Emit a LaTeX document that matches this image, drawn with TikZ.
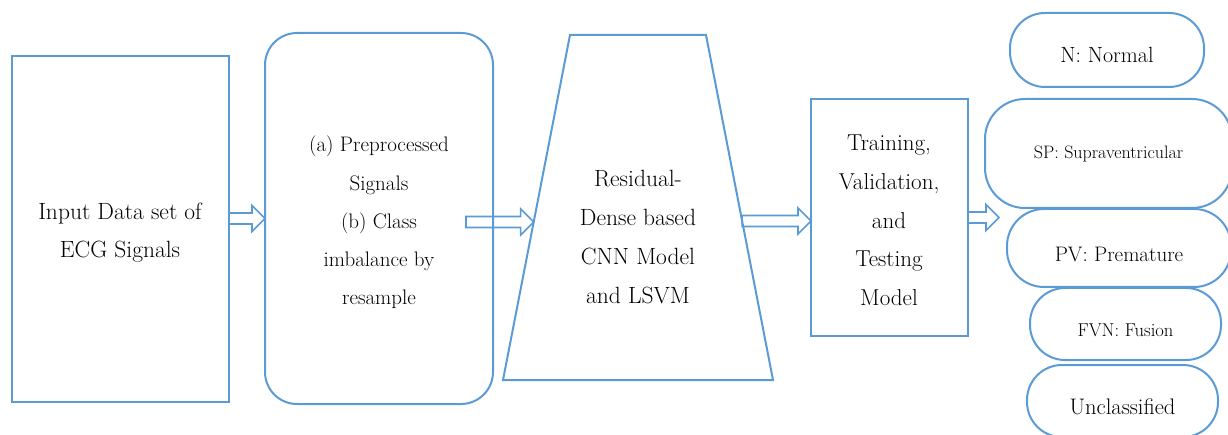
\documentclass[tikz,border=0pt]{standalone}
\usepackage{fontspec}
\usetikzlibrary{calc}
\definecolor{myblue}{HTML}{5B9BD5}
\newcommand\blockarrow[2]{%
  \path[harrowline] ($(#1)+(0,-5.5)$) -- ($(#2)+(-13,-5.5)$) -- ($(#2)+(-13,-13)$) -- (#2)
    -- ($(#2)+(-13,13)$) -- ($(#2)+(-13,5.5)$) -- ($(#1)+(0,5.5)$) -- cycle;}
\begin{document}
\begin{tikzpicture}[x=1pt,y=-1pt,
  shp/.style={draw=myblue, line width=2pt, inner sep=0pt, outer sep=0pt},
  geom/.style={rectangle, inner sep=0pt, outer sep=0pt},
  pill/.style={shp, rectangle, rounded corners=35pt},
  harrowline/.style={draw=myblue, line width=1.6pt, fill=white, line join=miter},
  txt/.style={align=center, inner sep=0pt, text=black},
]
\useasboundingbox (0,0) rectangle (1228,435);
\clip (0,0) rectangle (1228,435);

% box geometry (drawn after the arrows)
\node[geom, minimum width=217pt, minimum height=346pt] (input) at (120.5,229) {};
\node[geom, minimum width=228pt, minimum height=371pt] (prep) at (379,218.5) {};
\coordinate (cnnTL) at (570,35);
\coordinate (cnnTR) at (706,35);
\coordinate (cnnBR) at (773,380);
\coordinate (cnnBL) at (503,380);
\node[geom, minimum width=157pt, minimum height=237pt] (train) at (889.5,217.5) {};

% arrow levels
\coordinate (a1) at (0,218.5);
\coordinate (a4) at (0,217.5);
\coordinate (cnnL) at ($(cnnBL)!0.4580!(cnnTL)$);
\coordinate (cnnR) at ($(cnnBR)!0.4609!(cnnTR)$);
\coordinate (a2s) at ($(prep.east |- cnnL)+(-27,0)$);
\coordinate (classes) at (999,217.5);

% arrows
\blockarrow{input.east |- a1}{prep.west |- a1}
\blockarrow{a2s}{cnnL}
\blockarrow{cnnR}{train.west |- cnnR}
\blockarrow{train.east |- a4}{classes}

% shapes on top
\draw[shp] (input.north west) rectangle (input.south east);
\draw[shp, rounded corners=32pt] (prep.north west) rectangle (prep.south east);
\draw[shp] (cnnTL) -- (cnnTR) -- (cnnBR) -- (cnnBL) -- cycle;
\draw[shp] (train.north west) rectangle (train.south east);

% texts
\node[txt, font=\fontsize{23.5}{38.5}\selectfont] (inputtext) at (120,232.5) {Input Data set of\\ECG Signals};
\node[txt, font=\fontsize{21}{38.25}\selectfont] (preptext) at (379,222.6) {(a) Preprocessed\\Signals\\(b) Class\\imbalance by\\resample};
\node[txt, font=\fontsize{23.5}{38.7}\selectfont] (cnn) at (638,237) {Residual-\\Dense based\\CNN Model\\and LSVM};
\node[txt, font=\fontsize{23}{38.75}\selectfont] (traintext) at (889,220.5) {Training,\\Validation,\\and\\Testing\\Model};

% class pills
\node[pill, minimum width=194pt, minimum height=74pt] (N) at (1107,50) {};
\node[pill, rounded corners=40pt, minimum width=247pt, minimum height=109pt] (SP) at (1108.5,153.5) {};
\node[pill, rounded corners=37pt, minimum width=224pt, minimum height=78pt] (PV) at (1119,248) {};
\node[pill, minimum width=191pt, minimum height=72pt] (FVN) at (1125.5,324) {};
\node[pill, minimum width=191pt, minimum height=72pt] (UN) at (1122.5,401) {};

\node[txt, font=\fontsize{22}{26}\selectfont] at ($(N)+(0,4.5)$) {N: Normal};
\node[txt, font=\fontsize{18}{22}\selectfont] at ($(SP)+(0,0.5)$) {SP: Supraventricular};
\node[txt, font=\fontsize{21}{25}\selectfont] at ($(PV)+(0,6)$) {PV: Premature};
\node[txt, font=\fontsize{18.6}{22}\selectfont] at ($(FVN)+(0,6)$) {FVN: Fusion};
\node[txt, font=\fontsize{22.5}{26}\selectfont] at ($(UN)+(0,5.7)$) {Unclassified};
\end{tikzpicture}
\end{document}
